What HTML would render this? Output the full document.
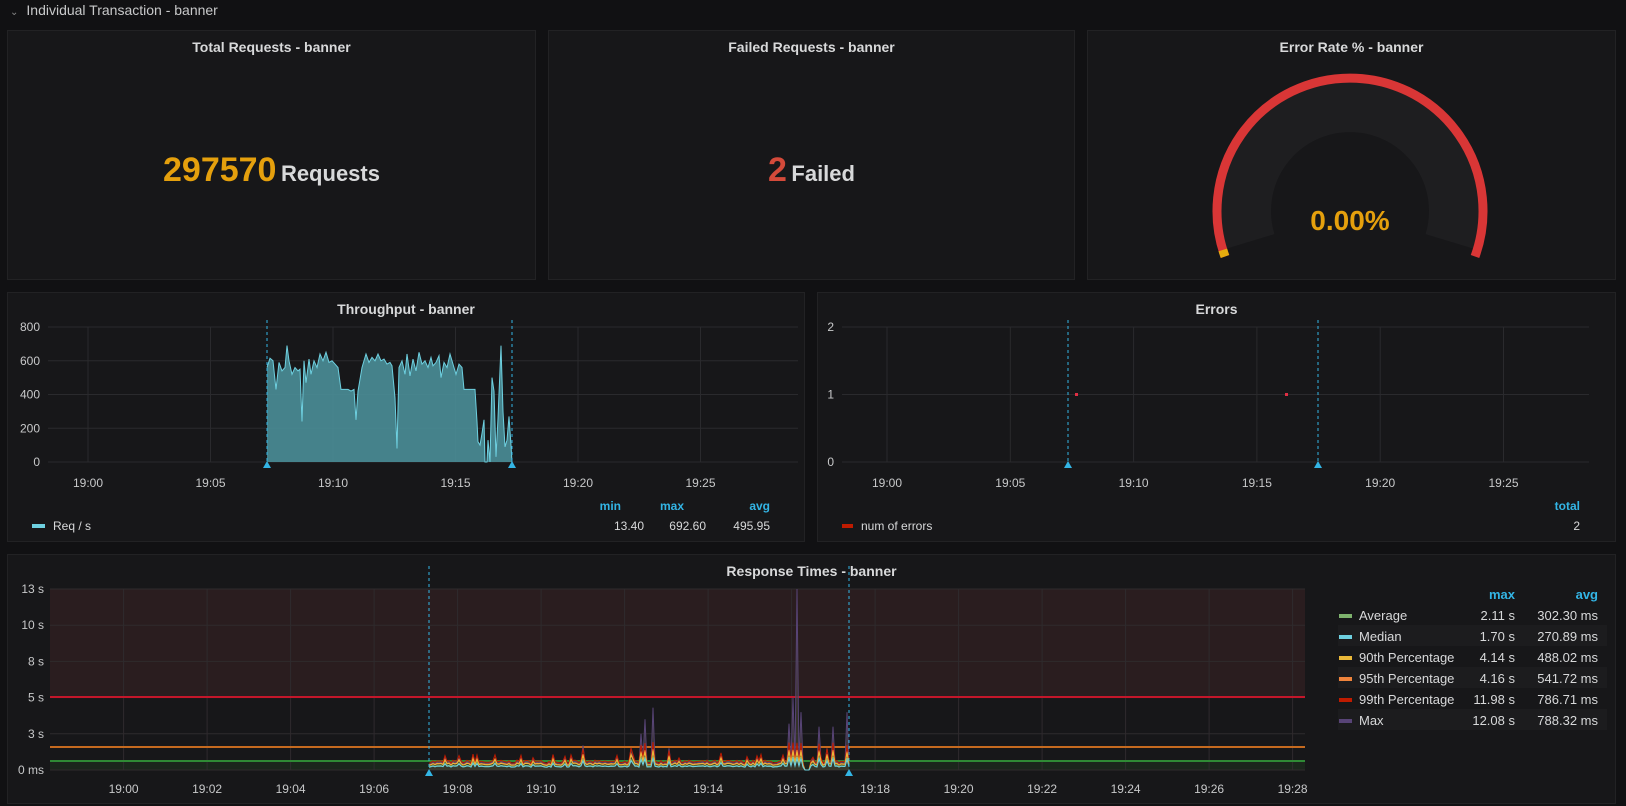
<!DOCTYPE html>
<html><head><meta charset="utf-8">
<style>
*{margin:0;padding:0;box-sizing:border-box}
body{width:1626px;height:806px;background:#111113;font-family:"Liberation Sans",sans-serif;color:#d8d9da;overflow:hidden;position:relative}
.p{position:absolute;background:#171719;border:1px solid #222224}
.t{position:absolute;left:0;right:0;text-align:center;font-weight:bold;font-size:14px;color:#d8d9da}
svg{position:absolute;left:0;top:0}
</style></head><body>
<div style="position:absolute;left:10px;top:2px;font-size:14px;color:#c8c9ca"><span style="font-size:10px;color:#888;margin-right:8px">&#8964;</span>Individual Transaction - banner</div>
<div class="p" style="left:7px;top:30px;width:529px;height:250px"><div class="t" style="top:8px">Total Requests - banner</div>
<div style="position:absolute;left:0;right:0;top:120px;text-align:center;font-weight:bold"><span style="font-size:34px;color:#e5a00d">297570</span> <span style="font-size:22px;color:#d8d9da">Requests</span></div></div>
<div class="p" style="left:548px;top:30px;width:527px;height:250px"><div class="t" style="top:8px">Failed Requests - banner</div>
<div style="position:absolute;left:0;right:0;top:120px;text-align:center;font-weight:bold"><span style="font-size:34px;color:#d44a3a">2</span> <span style="font-size:22px;color:#d8d9da">Failed</span></div></div>
<div class="p" style="left:1087px;top:30px;width:529px;height:250px"><div class="t" style="top:8px">Error Rate % - banner</div></div>
<div class="p" style="left:7px;top:292px;width:798px;height:250px"><div class="t" style="top:8px">Throughput - banner</div></div>
<div class="p" style="left:817px;top:292px;width:799px;height:250px"><div class="t" style="top:8px">Errors</div></div>
<div class="p" style="left:7px;top:554px;width:1609px;height:250px"><div class="t" style="top:8px;padding-right:0">Response Times - banner</div></div>
<svg id="s" width="1626" height="806" xmlns="http://www.w3.org/2000/svg" font-family="Liberation Sans, sans-serif" font-size="12"></svg>
<script>
var S=document.getElementById('s'),h='';
function L(x1,y1,x2,y2,c,w,d){h+='<line x1="'+x1+'" y1="'+y1+'" x2="'+x2+'" y2="'+y2+'" stroke="'+c+'" stroke-width="'+(w||1)+'"'+(d?' stroke-dasharray="'+d+'"':'')+'/>';}
function T(x,y,s,a,c,b,f){h+='<text x="'+x+'" y="'+y+'" text-anchor="'+(a||'start')+'" fill="'+(c||'#d8d9da')+'"'+(b?' font-weight="bold"':'')+(f?' font-size="'+f+'"':'')+'>'+s+'</text>';}
var seed=7;function R(){seed=(seed*16807)%2147483647;return seed/2147483647;}
var cx=1350,cy=211;
function arc(r,a1,a2){var p=function(a){return [cx+r*Math.cos(a),cy-r*Math.sin(a)]};var s=p(a1),e=p(a2);return 'M'+s[0].toFixed(1)+' '+s[1].toFixed(1)+' A'+r+' '+r+' 0 '+(Math.abs(a1-a2)>Math.PI?1:0)+' 1 '+e[0].toFixed(1)+' '+e[1].toFixed(1);}
var d2r=Math.PI/180;
h+='<path d="'+arc(104,197*d2r,-17*d2r)+'" stroke="#1e1e20" stroke-width="50" fill="none"/>';
h+='<path d="'+arc(133,200*d2r,-20*d2r)+'" stroke="#d93636" stroke-width="9" fill="none"/>';
h+='<path d="'+arc(133,200*d2r,197*d2r)+'" stroke="#e5ac0e" stroke-width="9" fill="none"/>';
T(1350,230,'0.00%','middle','#e5a00d',true,28);
for(var i=0;i<5;i++){var y=327+i*33.75;L(48,y,798,y,'#2a2a2d');T(40,y+4,[800,600,400,200,0][i],'end','#c8c9ca');}
for(i=0;i<6;i++){var x=88+i*122.5;L(x,327,x,462,'#2a2a2d');T(x,487,'19:'+['00','05','10','15','20','25'][i],'middle','#c8c9ca');}
var segs=[[267,560],[270,615],[273,600],[276,430],[279,590],[282,540],[285,560],[287,690],[289,600],[292,520],[295,560],[298,540],[300,550],[302,240],[304,600],[306,470],[309,610],[311,520],[314,600],[317,560],[320,640],[323,600],[326,650],[329,590],[332,600],[335,580],[338,560],[341,430],[348,430],[351,420],[354,430],[356,250],[358,420],[362,560],[366,640],[369,590],[372,620],[375,600],[378,640],[381,600],[384,610],[387,580],[390,590],[392,570],[395,380],[397,80],[399,560],[402,600],[405,520],[407,640],[410,510],[413,610],[416,540],[419,650],[422,580],[425,600],[428,560],[431,620],[433,570],[436,590],[439,630],[441,500],[444,590],[447,560],[450,640],[453,580],[456,520],[459,580],[462,560],[464,430],[475,430],[477,240],[478,120],[480,100],[482,170],[484,250],[485,0],[487,0],[488,130],[490,0],[492,500],[494,420],[496,30],[498,260],[501,690],[503,300],[505,90],[507,130],[509,270],[511,100],[512,0]];
var pl='',pf='M267 462';segs.forEach(function(s,k){var y=(462-s[1]*33.75/200).toFixed(1);pl+=(k?'L':'M')+s[0]+' '+y;pf+='L'+s[0]+' '+y;});pf+='L512 462Z';
h+='<path d="'+pf+'" fill="#4a8e98" fill-opacity="0.9"/><path d="'+pl+'" stroke="#6ed0e0" stroke-width="1" fill="none"/>';
L(267,320,267,462,'#33b5e5',1,'3,3');L(512,320,512,462,'#33b5e5',1,'3,3');
h+='<path d="M263 468L267 461L271 468Z" fill="#33b5e5"/><path d="M508 468L512 461L516 468Z" fill="#33b5e5"/>';
T(621,510,'min','end','#33b5e5',true);T(684,510,'max','end','#33b5e5',true);T(770,510,'avg','end','#33b5e5',true);
h+='<rect x="32" y="524" width="13" height="4" fill="#6ed0e0"/>';T(53,530,'Req / s');T(644,530,'13.40','end');T(706,530,'692.60','end');T(770,530,'495.95','end');
for(i=0;i<3;i++){y=327+i*67.5;L(842,y,1589,y,'#2a2a2d');T(834,y+4,2-i,'end','#c8c9ca');}
for(i=0;i<6;i++){x=887+i*123.3;L(x,327,x,462,'#2a2a2d');T(x,487,'19:'+['00','05','10','15','20','25'][i],'middle','#c8c9ca');}
L(1068,320,1068,462,'#33b5e5',1,'3,3');L(1318,320,1318,462,'#33b5e5',1,'3,3');
h+='<path d="M1064 468L1068 461L1072 468Z" fill="#33b5e5"/><path d="M1314 468L1318 461L1322 468Z" fill="#33b5e5"/>';
h+='<rect x="1075" y="393" width="3" height="3" fill="#e02f44"/><rect x="1285" y="393" width="3" height="3" fill="#e02f44"/>';
T(1580,510,'total','end','#33b5e5',true);h+='<rect x="842" y="524" width="11" height="4" fill="#bf1b00"/>';T(861,530,'num of errors');T(1580,530,'2','end');
h+='<rect x="50" y="589" width="1255" height="108" fill="#2a1d1f"/><rect x="50" y="761" width="1255" height="9" fill="#1b261c"/>';
for(i=0;i<6;i++){y=589+i*36.2;L(50,y,1305,y,'#2f2b2d');T(44,y+4,['13 s','10 s','8 s','5 s','3 s','0 ms'][i],'end','#c8c9ca');}
for(i=0;i<15;i++){x=123.6+i*83.5;L(x,589,x,770,'#2f2b2d');var m=i*2;T(x,793,'19:'+(m<10?'0'+m:m),'middle','#c8c9ca');}
L(50,697,1305,697,'#c4162a',2);L(50,747,1305,747,'#c56a1f',2);L(50,761,1305,761,'#2f8a35',2);
var sp={458:.8,473:.9,495:.7,520:.8,553:1,583:1.7,630:1.5,641:2.5,645:3.5,653:4.3,668:1.5,720:.9,760:.8,788:3.2,792:5,796:12.5,800:4,806:2.5,818:3,826:1.5,833:3,846:4};
var ser=[['#584477',1],['#bf1b00',.95],['#ef843c',.7],['#eab839',.65],['#7eb26d',.45],['#6ed0e0',.4]];
var base=[];for(x=429;x<=849;x+=2){var v=.3+R()*.15;if(R()<.07)v+=.25;base.push([x,v]);}
function val(x,v,f){var s=sp[x]||sp[x-1]||0;if(x>=804&&x<=810)return 0;if(f==1)return Math.max(v*1.3,s);var b=v*f*1.6;return s?b+Math.min(s,2.2)*f*0.6:b;}
var fill='M429 770';base.forEach(function(b){fill+='L'+b[0]+' '+(770-val(b[0],b[1],1)*14.48).toFixed(1);});fill+='L849 770Z';
h+='<path d="'+fill+'" fill="#4a4636" fill-opacity="0.6"/>';
ser.forEach(function(s){var p='';base.forEach(function(b,k){p+=(k?'L':'M')+b[0]+' '+(770-val(b[0],b[1],s[1])*14.48).toFixed(1);});h+='<path d="'+p+'" stroke="'+s[0]+'" stroke-width="1" fill="none"/>';});
L(429,566,429,770,'#33b5e5',1,'3,3');L(849,566,849,770,'#33b5e5',1,'3,3');
h+='<path d="M425 776L429 769L433 776Z" fill="#33b5e5"/><path d="M845 776L849 769L853 776Z" fill="#33b5e5"/>';
T(1515,599,'max','end','#33b5e5',true,13);T(1598,599,'avg','end','#33b5e5',true,13);
var lg=[['Average','#7eb26d','2.11 s','302.30 ms'],['Median','#6ed0e0','1.70 s','270.89 ms'],['90th Percentage','#eab839','4.14 s','488.02 ms'],['95th Percentage','#ef843c','4.16 s','541.72 ms'],['99th Percentage','#bf1b00','11.98 s','786.71 ms'],['Max','#584477','12.08 s','788.32 ms']];
lg.forEach(function(r,k){var y=615+k*21;if(k%2)h+='<rect x="1338" y="'+(y-11)+'" width="269" height="21" fill="#1c1c1e"/>';h+='<rect x="1339" y="'+(y-1)+'" width="13" height="4" fill="'+r[1]+'"/>';T(1359,y+5,r[0],'start','#d8d9da',false,13);T(1515,y+5,r[2],'end','#d8d9da',false,13);T(1598,y+5,r[3],'end','#d8d9da',false,13);});
S.innerHTML=h;
</script>
</body></html>
